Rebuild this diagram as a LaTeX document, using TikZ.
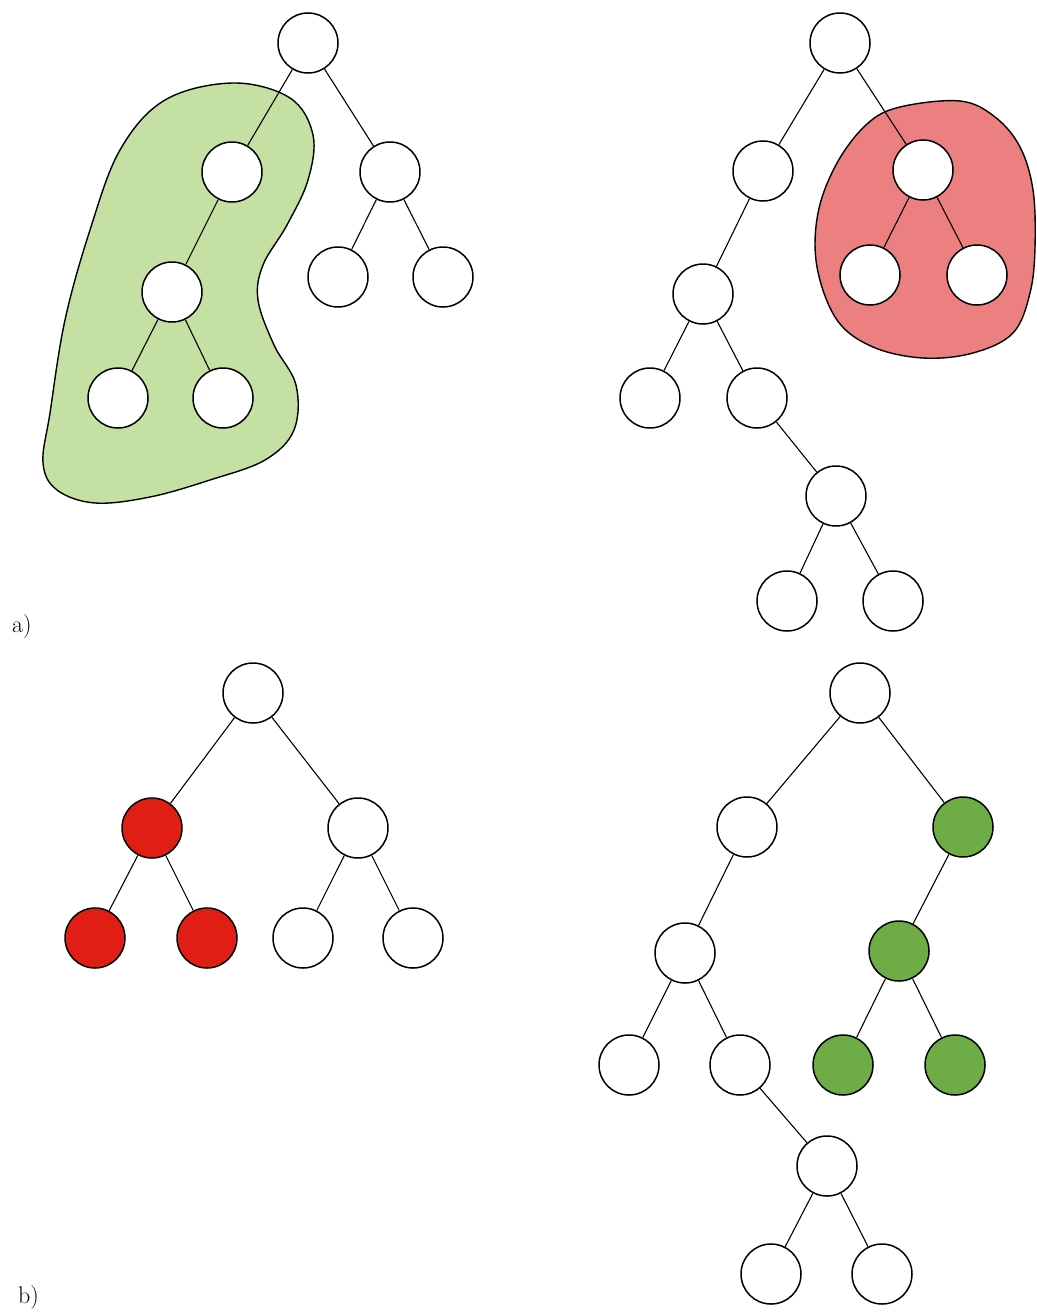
\documentclass[tikz,border=0pt]{standalone}
\definecolor{blobgreen}{RGB}{196,224,162}
\definecolor{blobred}{RGB}{236,128,128}
\definecolor{nodered}{RGB}{224,30,20}
\definecolor{nodegreen}{RGB}{110,172,70}
\begin{document}
\begin{tikzpicture}[x=1pt,y=-1pt,
  tn/.style={circle,draw=black,line width=1.5pt,fill=white,minimum size=60pt,inner sep=0pt},
  rn/.style={tn,fill=nodered},
  gn/.style={tn,fill=nodegreen},
  edge/.style={line width=1.1pt},
  blob/.style={draw=black,line width=1.4pt},
  lbl/.style={font=\fontsize{24}{28}\selectfont,inner sep=0pt}]
\useasboundingbox (0,0) rectangle (1036,1314);
% blobs
\draw[blob,fill=blobgreen] plot[smooth cycle,tension=0.6] coordinates{
 (233,83) (290,98) (313,135) (308,180) (287,225) (263,265) (258,300) (274,345) (296,385) (294,430) (265,460) (210,480) (150,497) (95,503) (57,490) (43,463) (50,413) (65,320) (90,230) (120,150) (165,100)};
\draw[blob,fill=blobred] plot[smooth cycle,tension=0.6] coordinates{
 (900,107) (960,101) (995,117) (1020,147) (1033,190) (1035,247) (1030,293) (1013,333) (973,353) (923,358) (873,347) (837,320) (817,267) (818,213) (837,163) (867,124)};
% tree A left
\node[tn] (a1) at (308,43) {};
\node[tn] (a2) at (232,172) {};
\node[tn] (a3) at (390,172) {};
\node[tn] (a4) at (338,277) {};
\node[tn] (a5) at (443,277) {};
\node[tn] (a6) at (172,292) {};
\node[tn] (a7) at (118,398) {};
\node[tn] (a8) at (223,398) {};
% tree A right
\node[tn] (b1) at (840,43) {};
\node[tn] (b2) at (763,171) {};
\node[tn] (b3) at (923,170) {};
\node[tn] (b4) at (870,275) {};
\node[tn] (b5) at (977,275) {};
\node[tn] (b6) at (703,294) {};
\node[tn] (b7) at (650,398) {};
\node[tn] (b8) at (757,398) {};
\node[tn] (b9) at (836,496) {};
\node[tn] (b10) at (787,601) {};
\node[tn] (b11) at (893,601) {};
% tree B left
\node[tn] (c1) at (253,693) {};
\node[rn] (c2) at (152,828) {};
\node[tn] (c3) at (358,828) {};
\node[rn] (c4) at (95,938) {};
\node[rn] (c5) at (207,938) {};
\node[tn] (c6) at (303,938) {};
\node[tn] (c7) at (413,938) {};
% tree B right
\node[tn] (d1) at (860,693) {};
\node[tn] (d2) at (747,827) {};
\node[gn] (d3) at (963,827) {};
\node[tn] (d4) at (685,953) {};
\node[gn] (d5) at (899,951) {};
\node[tn] (d6) at (629,1065) {};
\node[tn] (d7) at (740,1065) {};
\node[gn] (d8) at (843,1065) {};
\node[gn] (d9) at (955,1065) {};
\node[tn] (d10) at (827,1166) {};
\node[tn] (d11) at (771,1274) {};
\node[tn] (d12) at (882,1274) {};
% edges
\foreach \u/\v in {a1/a2,a1/a3,a3/a4,a3/a5,a2/a6,a6/a7,a6/a8,
  b1/b2,b1/b3,b3/b4,b3/b5,b2/b6,b6/b7,b6/b8,b8/b9,b9/b10,b9/b11,
  c1/c2,c1/c3,c2/c4,c2/c5,c3/c6,c3/c7,
  d1/d2,d1/d3,d2/d4,d3/d5,d4/d6,d4/d7,d5/d8,d5/d9,d7/d10,d10/d11,d10/d12}
  \draw[edge] (\u) -- (\v);
% labels
\node[lbl,anchor=west] (la) at (12,627) {a)};
\node[lbl,anchor=west] (lb) at (18,1297) {b)};
\end{tikzpicture}
\end{document}
